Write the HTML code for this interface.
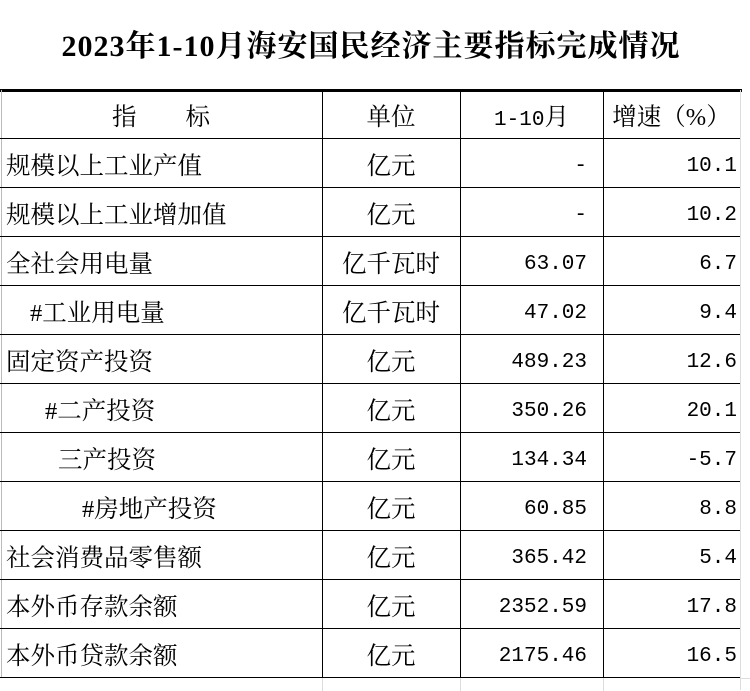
<!DOCTYPE html>
<html><head><meta charset="utf-8"><style>
body{margin:0;width:750px;height:691px;background:#fff;position:relative;overflow:hidden;font-family:"Liberation Serif","Noto Serif CJK SC",serif;color:#000}
.t{position:absolute;left:0;top:22px;width:742px;text-align:center;font-size:30px;font-weight:bold;line-height:50px;letter-spacing:1px;font-family:"Liberation Serif","Noto Serif CJK SC",serif}
.h{position:absolute;height:1px;background:#000}
.v{position:absolute;width:1px;background:#000}
.c{position:absolute;font-size:24.5px;line-height:49px;white-space:nowrap}
.n{font-family:"Liberation Mono","Noto Serif CJK SC",monospace;font-size:21px}
</style></head><body>
<div class="t">2023年1-10月海安国民经济主要指标完成情况</div>
<div class="h" style="left:0;top:89px;width:742px;height:3px"></div>
<div class="v" style="left:1px;top:90px;height:588px;background:#bbb"></div>
<div class="v" style="left:322px;top:90px;height:588px"></div>
<div class="v" style="left:460px;top:90px;height:588px"></div>
<div class="v" style="left:603px;top:90px;height:588px"></div>
<div class="v" style="left:740px;top:90px;height:600px;background:#ddd"></div>
<div class="v" style="left:460px;top:678px;height:13px;background:#ddd"></div>
<div class="v" style="left:603px;top:678px;height:13px;background:#ddd"></div>
<div class="v" style="left:322px;top:678px;height:13px;background:#ddd"></div>
<div id="rows"></div>
<script>
const rows=[["指　　标","单位","1-10月","增速（%）",0,1],
["规模以上工业产值","亿元","-","10.1",0],
["规模以上工业增加值","亿元","-","10.2",0],
["全社会用电量","亿千瓦时","63.07","6.7",0],
["#工业用电量","亿千瓦时","47.02","9.4",24],
["固定资产投资","亿元","489.23","12.6",0],
["#二产投资","亿元","350.26","20.1",39],
["三产投资","亿元","134.34","-5.7",52],
["#房地产投资","亿元","60.85","8.8",76],
["社会消费品零售额","亿元","365.42","5.4",0],
["本外币存款余额","亿元","2352.59","17.8",0],
["本外币贷款余额","亿元","2175.46","16.5",0]];
let h="";
rows.forEach((r,i)=>{const y=90+i*49, ty=y+3;
h+=`<div class="h" style="left:0;top:${y+48}px;width:740px"></div>`;
h+=`<div class="c" style="left:${r[5]?0:6+r[4]}px;top:${ty}px;${r[5]?'width:322px;text-align:center':''}">${r[0]}</div>`;
h+=`<div class="c" style="left:322px;width:138px;text-align:center;top:${ty}px">${r[1]}</div>`;
if(r[5]){h+=`<div class="c" style="left:460px;width:143px;text-align:center;top:${ty}px"><span class="n">1-10</span>月</div>`;
h+=`<div class="c" style="left:603px;width:137px;text-align:center;top:${ty}px">${r[3]}</div>`;}
else{h+=`<div class="c n" style="right:${750-587}px;top:${ty}px">${r[2]}</div>`;
h+=`<div class="c n" style="right:${750-737}px;top:${ty}px">${r[3]}</div>`;}
});
h+=`<div class="h" style="left:740px;top:678px;width:10px;background:#ddd"></div>`;
document.getElementById('rows').innerHTML=h;
</script>
</body></html>
